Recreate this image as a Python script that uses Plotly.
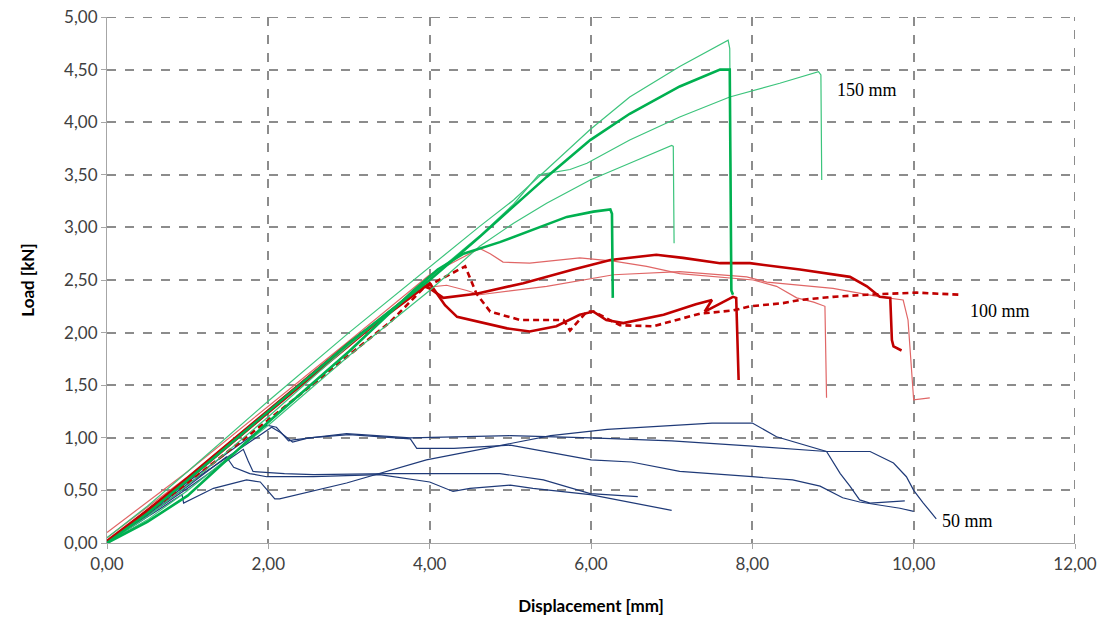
import plotly.graph_objects as go

# ---------------- data (displacement [mm], load [kN]) ----------------
# 50 mm specimens (blue)
b1_x = [0, 1.0, 1.5, 1.98, 2.1, 2.25, 2.31, 2.97, 3.76, 5.0, 6.0, 7.0, 8.0, 8.5, 8.92, 9.46, 9.75, 9.91, 10.0, 10.12, 10.28]
b1_y = [0, 0.58, 0.86, 1.12, 1.10, 0.97, 0.98, 1.04, 1.00, 1.02, 1.00, 0.97, 0.92, 0.89, 0.87, 0.87, 0.76, 0.63, 0.50, 0.38, 0.23]
b2_x = [0, 1.0, 2.04, 2.15, 2.3, 2.5, 3.0, 3.76, 3.84, 4.3, 5.0, 5.5, 6.0, 6.5, 7.1, 8.0, 8.5, 8.84, 9.12, 9.33, 9.83, 10.0]
b2_y = [0, 0.56, 1.10, 1.05, 0.96, 1.00, 1.03, 0.99, 0.90, 0.90, 0.93, 0.86, 0.79, 0.77, 0.68, 0.63, 0.60, 0.54, 0.43, 0.39, 0.33, 0.30]
b3_x = [0, 0.5, 0.93, 0.95, 1.32, 1.73, 1.9, 2.0, 2.08, 2.14, 2.97, 3.96, 5.0, 5.5, 6.2, 7.0, 7.5, 8.0, 8.3, 8.92, 9.09, 9.21, 9.33, 9.46, 9.89]
b3_y = [0, 0.25, 0.46, 0.38, 0.52, 0.60, 0.58, 0.49, 0.42, 0.42, 0.57, 0.79, 0.95, 1.02, 1.08, 1.12, 1.14, 1.14, 1.01, 0.87, 0.66, 0.54, 0.41, 0.38, 0.40]
b4_x = [0, 1.0, 1.5, 1.69, 1.75, 1.81, 2.2, 2.56, 3.5, 4.3, 4.87, 5.41, 5.99, 6.58]
b4_y = [0, 0.52, 0.79, 0.89, 0.78, 0.68, 0.66, 0.65, 0.66, 0.66, 0.66, 0.60, 0.47, 0.44]
b5_x = [0, 1.0, 1.48, 1.57, 1.77, 1.98, 2.56, 3.38, 4.0, 4.29, 4.5, 5.0, 5.28, 5.99, 7.0]
b5_y = [0, 0.54, 0.82, 0.72, 0.66, 0.63, 0.63, 0.65, 0.58, 0.49, 0.52, 0.55, 0.52, 0.46, 0.31]

# 100 mm specimens (red)
r1_x = [0, 1.0, 2.0, 3.0, 3.9, 4.0, 4.17, 4.58, 5.16, 5.78, 6.24, 6.81, 7.14, 7.6, 7.97, 8.59, 9.21, 9.42, 9.58, 9.71, 9.73, 9.75, 9.85]
r1_y = [0.02, 0.60, 1.24, 1.88, 2.45, 2.42, 2.33, 2.37, 2.47, 2.60, 2.69, 2.74, 2.71, 2.66, 2.66, 2.60, 2.53, 2.44, 2.34, 2.33, 1.93, 1.87, 1.83]
r2_x = [0, 1.0, 2.0, 3.0, 4.0, 4.19, 4.34, 4.96, 5.24, 5.57, 5.86, 6.03, 6.19, 6.4, 6.9, 7.3, 7.5, 7.41, 7.76, 7.8, 7.83]
r2_y = [0, 0.62, 1.26, 1.90, 2.47, 2.26, 2.15, 2.04, 2.01, 2.06, 2.17, 2.20, 2.12, 2.09, 2.17, 2.27, 2.31, 2.20, 2.34, 2.33, 1.55]
r3_x = [0, 1.0, 2.0, 3.0, 3.51, 3.92, 4.44, 4.58, 4.75, 5.12, 5.66, 5.74, 5.95, 6.03, 6.36, 6.77, 7.35, 7.76, 7.97, 8.38, 8.59, 9.0, 9.42, 10.04, 10.57]
r3_y = [0, 0.57, 1.17, 1.78, 2.10, 2.42, 2.63, 2.37, 2.20, 2.12, 2.12, 2.02, 2.20, 2.20, 2.07, 2.06, 2.18, 2.21, 2.25, 2.28, 2.31, 2.34, 2.36, 2.38, 2.36]
r4_x = [0, 1.0, 2.0, 3.0, 4.0, 4.62, 4.75, 4.91, 5.24, 5.86, 6.28, 6.69, 7.1, 7.52, 8.01, 8.3, 8.55, 8.76, 8.9, 8.92]
r4_y = [0.10, 0.68, 1.30, 1.92, 2.55, 2.80, 2.75, 2.67, 2.66, 2.71, 2.68, 2.63, 2.56, 2.53, 2.50, 2.44, 2.33, 2.29, 2.25, 1.38]
r5_x = [0, 1.0, 2.0, 3.0, 3.85, 4.21, 4.46, 4.62, 5.45, 6.28, 7.1, 7.93, 8.18, 9.0, 9.58, 9.87, 9.93, 10.0, 10.2]
r5_y = [0.05, 0.63, 1.27, 1.90, 2.42, 2.45, 2.40, 2.36, 2.44, 2.55, 2.58, 2.53, 2.48, 2.42, 2.34, 2.31, 2.12, 1.36, 1.38]

# 150 mm specimens (green)
g1_x = [0, 0.5, 1.0, 2.0, 3.0, 4.0, 4.62, 5.04, 5.45, 5.99, 6.48, 7.1, 7.7, 7.72, 7.74]
g1_y = [0.05, 0.35, 0.68, 1.35, 2.00, 2.62, 3.01, 3.26, 3.55, 3.93, 4.24, 4.53, 4.78, 4.70, 2.40]
g2_x = [0, 0.5, 1.0, 2.0, 3.0, 4.0, 4.62, 5.04, 5.45, 5.99, 6.48, 7.1, 7.6, 7.72, 7.74, 7.76]
g2_y = [0, 0.28, 0.60, 1.25, 1.90, 2.50, 2.91, 3.20, 3.48, 3.83, 4.08, 4.34, 4.50, 4.50, 2.40, 2.36]
g3_x = [0, 0.5, 1.0, 2.0, 3.0, 4.0, 4.62, 5.04, 5.35, 5.74, 5.95, 6.48, 7.1, 7.72, 8.34, 8.82, 8.85, 8.86]
g3_y = [0, 0.25, 0.55, 1.20, 1.88, 2.52, 2.92, 3.22, 3.50, 3.55, 3.61, 3.83, 4.05, 4.24, 4.37, 4.48, 4.45, 3.45]
g4_x = [0, 0.5, 1.0, 2.0, 3.0, 4.0, 4.62, 5.04, 5.45, 5.99, 6.48, 7.0, 7.02, 7.03]
g4_y = [0, 0.22, 0.50, 1.12, 1.78, 2.40, 2.82, 3.04, 3.23, 3.45, 3.61, 3.78, 3.77, 2.85]
g5_x = [0, 0.5, 1.0, 2.0, 3.0, 3.8, 4.1, 4.42, 4.87, 5.28, 5.7, 6.03, 6.24, 6.26, 6.27]
g5_y = [0, 0.20, 0.45, 1.15, 1.82, 2.40, 2.60, 2.75, 2.86, 2.98, 3.10, 3.15, 3.17, 3.13, 2.33]

x_ticks = [0, 2, 4, 6, 8, 10, 12]
y_ticks = [0, 0.5, 1.0, 1.5, 2.0, 2.5, 3.0, 3.5, 4.0, 4.5, 5.0]
labels = ["150 mm", "100 mm", "50 mm"]
label_x = [9.02, 10.67, 10.33]
label_y = [4.31, 2.21, 0.21]

# ---------------- styling ----------------
BLUE = "#1F3A78"
RED = "#C00000"
RED_THIN = "#E06666"
GREEN = "#00B050"
GREEN_THIN = "#3CC47C"
GRID = "#8C8C8C"

fig = go.Figure()

def add(x, y, color, width, dash="solid"):
    fig.add_trace(go.Scatter(x=x, y=y, mode="lines",
                             line=dict(color=color, width=width, dash=dash),
                             showlegend=False, hoverinfo="skip"))

for bx, by in [(b1_x, b1_y), (b2_x, b2_y), (b3_x, b3_y), (b4_x, b4_y), (b5_x, b5_y)]:
    add(bx, by, BLUE, 1.2)

add(r4_x, r4_y, RED_THIN, 1.2)
add(r5_x, r5_y, RED_THIN, 1.2)
add(r1_x, r1_y, RED, 2.6)
add(r2_x, r2_y, RED, 2.6)
add(r3_x, r3_y, RED, 2.6, dash="6px,4px")

add(g1_x, g1_y, GREEN_THIN, 1.2)
add(g3_x, g3_y, GREEN_THIN, 1.2)
add(g4_x, g4_y, GREEN_THIN, 1.2)
add(g2_x, g2_y, GREEN, 2.6)
add(g5_x, g5_y, GREEN, 2.6)

for t, lx, ly in zip(labels, label_x, label_y):
    fig.add_annotation(x=lx, y=ly, text=t, showarrow=False, xanchor="left",
                       yanchor="middle",
                       font=dict(family="Liberation Serif", size=18, color="#000000"))

# dashed grid lines on the outer edges (x = 12, y = 5)
fig.add_shape(type="line", xref="x", yref="paper", x0=x_ticks[-1], x1=x_ticks[-1], y0=0, y1=1,
              line=dict(color=GRID, width=2, dash="dash"), layer="below")
fig.add_shape(type="line", xref="paper", yref="y", x0=0, x1=1, y0=y_ticks[-1], y1=y_ticks[-1],
              line=dict(color=GRID, width=2, dash="dash"), layer="below")

axis_common = dict(
    showgrid=True, gridcolor=GRID, gridwidth=2, griddash="dash",
    zeroline=False, showline=True, linecolor="#A6A6A6", linewidth=1.2,
    ticks="outside", ticklen=5, tickcolor="#A6A6A6",
    tickfont=dict(family="Lato", size=17, color="#404040"),
    tickformat=".2f",
)

fig.update_xaxes(range=[0, 12], tickvals=x_ticks,
                 title=dict(text="<b>Displacement [mm]</b>", standoff=27,
                            font=dict(family="Lato", size=17, color="#000000")),
                 **axis_common)
fig.update_yaxes(range=[0, 5], tickvals=y_ticks,
                 title=dict(text="<b>Load [kN]</b>", standoff=25,
                            font=dict(family="Lato", size=17, color="#000000")),
                 **axis_common)

fig.update_layout(
    width=1112, height=623,
    margin=dict(l=107, r=37, t=17, b=80, autoexpand=False),
    paper_bgcolor="white", plot_bgcolor="white",
    separators=",.",
)

# remove the default page margin so the figure sits at the window's top-left corner
fig.write_html("out.html", config={"displayModeBar": False},
               post_script="document.body.style.margin='0';")
